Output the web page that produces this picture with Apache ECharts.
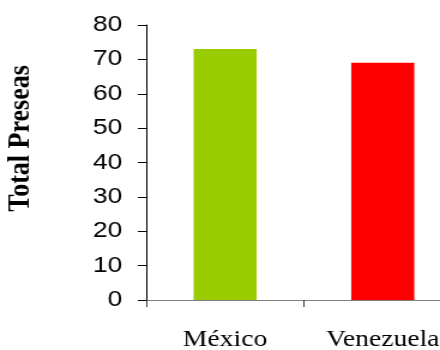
<!DOCTYPE html>
<html>
<head>
<meta charset="utf-8">
<script src="https://cdn.jsdelivr.net/npm/echarts@6/dist/echarts.min.js"></script>
<style>
html,body{margin:0;padding:0;background:#fff;overflow:hidden;}
#wrap{width:440px;height:350px;overflow:hidden;}
#chart{width:367px;height:350px;transform:scaleX(1.1989);transform-origin:0 0;}
</style>
</head>
<body>
<div id="wrap"><div id="chart"></div></div>
<script>
const categories = ["México", "Venezuela"];
const values = [73, 69];
const barColors = ["#99CC00", "#FF0000"];
const yTicks = [0, 10, 20, 30, 40, 50, 60, 70, 80];

const chart = echarts.init(document.getElementById('chart'), null, {renderer: 'canvas'});
chart.setOption({
  animation: false,
  backgroundColor: '#ffffff',
  grid: {left: 122, right: -18, top: 25, bottom: 50, containLabel: false, outerBoundsMode: 'none'},
  xAxis: {
    type: 'category',
    data: categories,
    axisLine: {show: true, lineStyle: {color: '#808080', width: 1}},
    axisTick: {show: true, length: 7, lineStyle: {color: '#404040'}},
    axisLabel: {
      interval: 0,
      hideOverlap: false,
      margin: 28,
      color: '#000',
      fontFamily: 'Liberation Serif',
      fontSize: 23
    }
  },
  yAxis: {
    type: 'value',
    min: yTicks[0],
    max: yTicks[yTicks.length - 1],
    interval: 10,
    name: 'Total Preseas',
    nameLocation: 'middle',
    nameGap: 92,
    nameTextStyle: {
      color: '#000',
      fontFamily: 'Liberation Serif',
      fontWeight: 'bold',
      fontSize: 26,
      padding: [0, 0, 0, 48]
    },
    splitLine: {show: false},
    axisLine: {show: true, lineStyle: {color: '#000', width: 1}},
    axisTick: {show: true, length: 7, lineStyle: {color: '#000'}},
    axisLabel: {
      margin: 20,
      color: '#000',
      fontFamily: 'Liberation Sans',
      fontSize: 22
    }
  },
  series: [{
    type: 'bar',
    barWidth: '40%',
    data: values.map((v, i) => ({value: v, itemStyle: {color: barColors[i]}}))
  }]
});
</script>
</body>
</html>
